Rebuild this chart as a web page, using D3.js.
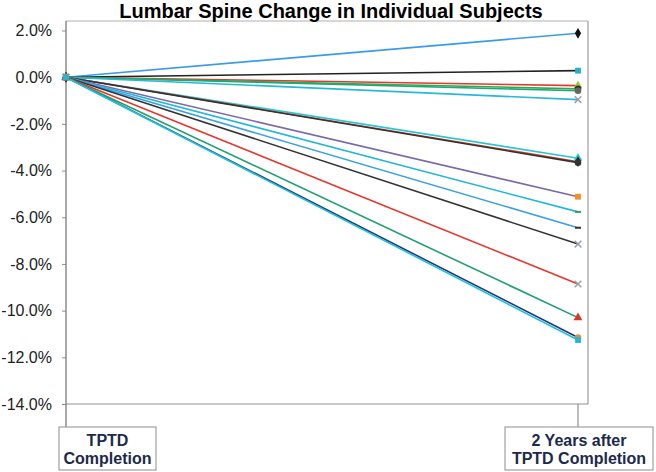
<!DOCTYPE html>
<html>
<head>
<meta charset="utf-8">
<script src="https://cdn.jsdelivr.net/npm/d3@7"></script>
<style>
  body { margin: 0; background: #fff; }
  svg { display: block; font-family: "Liberation Sans", Arial, sans-serif; }
</style>
</head>
<body>
<svg id="chart" width="656" height="472"></svg>
<script>
// categories on the x axis
const categories = ["TPTD Completion", "2 Years after TPTD Completion"];
const catLines = [["TPTD", "Completion"], ["2 Years after", "TPTD Completion"]];

// % change at 2 years for each subject (baseline is 0 for all)
const endValues = [1.88, 0.28, -0.36, -0.50, -0.58, -0.96, -3.47, -3.62, -3.66,
  -5.12, -5.77, -6.45, -7.15, -8.86, -10.3, -11.15, -11.26];

const lineColors = ["#3a9ce8", "#222222", "#e8362a", "#2fa84f", "#20a878", "#28b8d8",
  "#28c8d0", "#d83828", "#333333", "#7a6aa8", "#20b8d8", "#3aa0e8", "#333333",
  "#e8362a", "#20a070", "#1a3a80", "#20c0d8"];
const markerColors = ["#111", "#20b0d0", "#9acd32", "#333", "#666", "#9aa0b0",
  "#30c0c8", "#222", "#333", "#f39020", "#3a9a50", "#333", "#9aa0b0",
  "#9aa0b0", "#d83828", "#e09040", "#22b8d0"];
const markerShapes = ["diamond", "square", "triangle", "circle", "circle", "x",
  "triangle", "diamond", "circle", "square", "dash", "dash", "x", "x",
  "triangle", "circle", "square"];

const yTicks = d3.range(-14, 2.01, 2);

const svg = d3.select("#chart");

const x = d3.scalePoint().domain(categories).range([66, 578]);
const y = d3.scaleLinear().domain([-14, 2]).range([404, 30.5]);

// plot frame (top + right), light grey
svg.append("line").attr("x1", 66).attr("x2", 588).attr("y1", 21).attr("y2", 21)
  .attr("stroke", "#b0b0b0").attr("stroke-width", 1.2);
svg.append("line").attr("x1", 588).attr("x2", 588).attr("y1", 21).attr("y2", y(-14))
  .attr("stroke", "#b0b0b0").attr("stroke-width", 1.5);
svg.append("line").attr("x1", 66).attr("x2", 588).attr("y1", y(-14)).attr("y2", y(-14))
  .attr("stroke", "#909090").attr("stroke-width", 1);

// y axis
const yAxis = svg.append("g")
  .attr("transform", "translate(66,0)")
  .call(d3.axisLeft(y).tickValues(yTicks).tickSize(4).tickPadding(10)
    .tickFormat(d => d.toFixed(1) + "%"));
yAxis.select(".domain").remove();
yAxis.selectAll(".tick line").attr("stroke", "#909090");
yAxis.selectAll("text").attr("font-size", 16).attr("fill", "#222")
  .attr("font-family", "Liberation Sans, Arial, sans-serif");

// left axis line runs down to the label box
svg.append("line").attr("x1", 66).attr("x2", 66).attr("y1", 21).attr("y2", 427)
  .attr("stroke", "#7a7a7a").attr("stroke-width", 1.3);
// drop line to the second label box
svg.append("line").attr("x1", 578).attr("x2", 578).attr("y1", y(-14)).attr("y2", 427)
  .attr("stroke", "#909090").attr("stroke-width", 1.2);

// category label boxes
const boxes = [{ x0: 59, x1: 156 }, { x0: 505, x1: 653 }];
categories.forEach((c, i) => {
  const b = boxes[i];
  svg.append("rect").attr("x", b.x0).attr("y", 427).attr("width", b.x1 - b.x0).attr("height", 43)
    .attr("fill", "#fff").attr("stroke", "#a0a0a0").attr("stroke-width", 1.2);
  const t = svg.append("text").attr("text-anchor", "middle")
    .attr("font-size", 16).attr("font-weight", "bold").attr("fill", "#1c2a4c");
  catLines[i].forEach((ln, j) => {
    t.append("tspan").attr("x", (b.x0 + b.x1) / 2).attr("y", 446 + j * 18).text(ln);
  });
});

// lines
const line = d3.line().x(d => x(d.cat)).y(d => y(d.v));
const series = endValues.map((v, i) => ({
  i, pts: [{ cat: categories[0], v: 0 }, { cat: categories[1], v: v }]
}));

svg.append("g").selectAll("path").data(series).join("path")
  .attr("d", d => line(d.pts))
  .attr("fill", "none")
  .attr("stroke", d => lineColors[d.i])
  .attr("stroke-width", 1.6);

// markers
const symMap = {
  diamond: d3.symbolDiamond, square: d3.symbolSquare, triangle: d3.symbolTriangle,
  circle: d3.symbolCircle, x: d3.symbolTimes
};
const mg = svg.append("g");
series.forEach(s => {
  s.pts.forEach(p => {
    const shape = markerShapes[s.i];
    const cx = x(p.cat), cy = y(p.v);
    if (shape === "dash") {
      mg.append("line").attr("x1", cx - 3).attr("x2", cx + 3).attr("y1", cy).attr("y2", cy)
        .attr("stroke", markerColors[s.i]).attr("stroke-width", 2);
    } else if (shape === "x") {
      mg.append("path").attr("d", d3.symbol(symMap.x, 30)())
        .attr("transform", `translate(${cx},${cy})`)
        .attr("fill", "none").attr("stroke", markerColors[s.i]).attr("stroke-width", 1.5);
    } else {
      mg.append("path").attr("d", d3.symbol(symMap[shape], 34)())
        .attr("transform", `translate(${cx},${cy})`)
        .attr("fill", markerColors[s.i]);
    }
  });
});

// title
svg.append("text").attr("x", 331).attr("y", 18).attr("text-anchor", "middle")
  .attr("font-size", 20).attr("font-weight", "bold").attr("fill", "#000")
  .text("Lumbar Spine Change in Individual Subjects");
</script>
</body>
</html>
